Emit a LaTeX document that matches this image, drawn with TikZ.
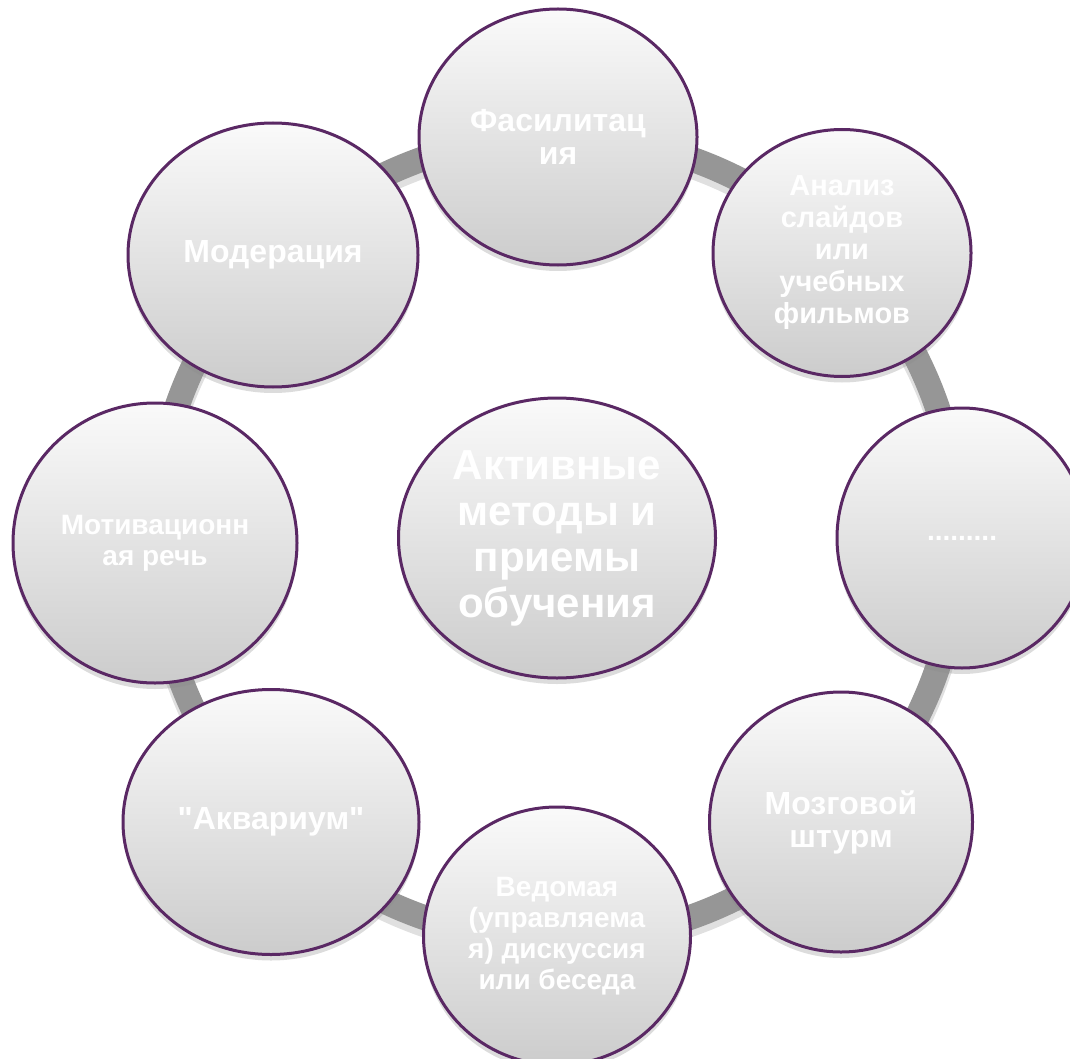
\documentclass[tikz,border=0pt]{standalone}
\usepackage{fontspec}
\newfontfamily\methodfont{Liberation Sans}
\usetikzlibrary{shapes.geometric,shadows,backgrounds}

\definecolor{rimviolet}{RGB}{90,40,100}
\definecolor{ringgray}{RGB}{150,150,150}

\begin{document}
\begin{tikzpicture}[x=1pt, y=-1pt,
    bubble/.style={ellipse, draw=rimviolet, line width=3pt,
      top color=black!2, bottom color=black!20,
      text=white, align=center, inner sep=0pt,
      font=\methodfont\bfseries\fontsize{32}{33}\selectfont,
      drop shadow={shadow xshift=0pt, shadow yshift=-6pt, opacity=.3, fill=black!45}},
    small/.style={font=\methodfont\bfseries\fontsize{28}{31}\selectfont},
    ring/.style={draw=ringgray, line width=25pt}]
    \useasboundingbox (0, 0) rectangle (1070, 1059);

    % hub and the eight methods round it
    \node [bubble, minimum width=317pt, minimum height=280pt,
           font=\methodfont\bfseries\fontsize{42}{46}\selectfont] (hub) at (557, 538)
           {Активные\\методы и\\приемы\\обучения};
    \node [bubble, minimum width=278pt, minimum height=256pt] (facil) at (558, 137) {Фасилитац\\ия};
    \node [bubble, minimum width=258pt, minimum height=247pt,
           font=\methodfont\bfseries\fontsize{29}{32}\selectfont] (slides) at (842, 253) {Анализ\\слайдов\\или\\учебных\\фильмов};
    \node [bubble, small, minimum width=250pt, minimum height=260pt] (dots) at (962, 538) {.........};
    \node [bubble, minimum width=263pt, minimum height=260pt] (storm) at (841, 822) {Мозговой\\штурм};
    \node [bubble, small, minimum width=267pt, minimum height=258pt] (talk) at (557, 936) {Ведомая\\(управляема\\я) дискуссия\\или беседа};
    \node [bubble, minimum width=296pt, minimum height=265pt] (aqua) at (271, 822) {"Аквариум"};
    \node [bubble, small, minimum width=284pt, minimum height=280pt] (speech) at (155, 543) {Мотивационн\\ая речь};
    \node [bubble, minimum width=290pt, minimum height=264pt] (moder) at (273, 255) {Модерация};

    % the ring behind the outer circles
    \begin{scope}[on background layer]
        \draw [ring, draw=black, opacity=.12] ([yshift=-7pt]hub.center) circle [radius=402pt];
        \draw [ring] (hub.center) circle [radius=402pt];
    \end{scope}
\end{tikzpicture}
\end{document}
